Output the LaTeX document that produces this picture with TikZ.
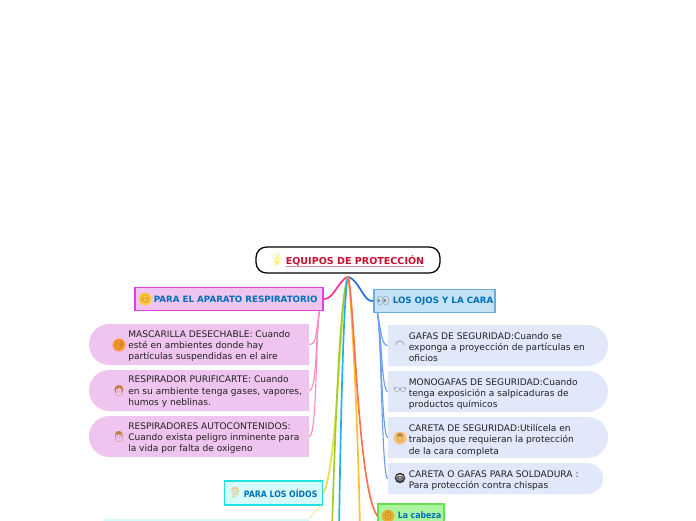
\documentclass[tikz,border=0pt]{standalone}
\usepackage{fontspec}
\setmainfont{DejaVu Sans}
\newfontfamily\emojifont{Noto Emoji}
\newfontfamily\narrowfont[FakeStretch=0.88]{DejaVu Sans}
\usetikzlibrary{arrows.meta,positioning,shapes,calc}
\definecolor{rootred}{HTML}{C8102E}
\definecolor{rootline}{HTML}{E08598}
\definecolor{headblue}{HTML}{0070B8}
\definecolor{ink}{HTML}{222222}
\definecolor{pinkbox}{HTML}{EFC4EF}
\definecolor{pinkline}{HTML}{E040E0}
\definecolor{pinklink}{HTML}{FF88C0}
\definecolor{blubox}{HTML}{C5E2F5}
\definecolor{bluline}{HTML}{6AAEDC}
\definecolor{blulink}{HTML}{6C9CF0}
\definecolor{paleblue}{HTML}{E0E8FA}
\definecolor{cyanbox}{HTML}{D5FBFD}
\definecolor{cyanline}{HTML}{20E0E0}
\definecolor{grnbox}{HTML}{ABF5A0}
\definecolor{grnline}{HTML}{66E050}
\definecolor{brmagenta}{HTML}{FF3090}
\definecolor{brblue}{HTML}{2070E0}
\definecolor{bryellow}{HTML}{E6E040}
\definecolor{brgreen}{HTML}{A0CC30}
\definecolor{brcyan}{HTML}{20B0F0}
\definecolor{brorange}{HTML}{FFC030}
\definecolor{brred}{HTML}{FF7050}
\definecolor{paleyellow}{HTML}{F4EE98}
\definecolor{faceyellow}{HTML}{FFC93C}
\definecolor{facered}{HTML}{F79A2E}
\definecolor{faceskin}{HTML}{F8C070}
\definecolor{helmet}{HTML}{E8B030}
\newlength{\pxu}
\setlength{\pxu}{0.025cm}
\tikzset{
  rootnode/.style={draw=black,fill=white,line width=0.9pt,rounded corners=7.5pt,
                   minimum width=184\pxu,minimum height=26\pxu,inner sep=0pt},
  mainbox/.style={line width=0.8pt,inner sep=0pt,minimum height=23\pxu},
  maintext/.style={font=\fontsize{6.2}{7.5}\selectfont\bfseries,text=headblue,
                   anchor=west,inner sep=0pt},
  narrowtext/.style={maintext,font=\narrowfont\fontsize{6.3}{7.5}\selectfont\bfseries},
  leftleaf/.style={rounded rectangle,rounded rectangle right arc=none,fill=pinkbox,
                   minimum width=220\pxu,minimum height=41\pxu,inner sep=0pt},
  rightleaf/.style={rounded rectangle,rounded rectangle left arc=none,fill=paleblue,
                    minimum width=220\pxu,minimum height=41\pxu,inner sep=0pt},
  leaftext/.style={font=\fontsize{6.45}{8.1}\selectfont,text=ink,align=left,
                   anchor=north west,inner sep=0pt},
  icon/.style={font=\emojifont\fontsize{7.5}{8}\selectfont,inner sep=0pt},
  faceicon/.style={icon,font=\emojifont\fontsize{5.6}{6}\selectfont,circle,fill=#1,
                   text=#1!65!black,minimum size=10.5\pxu},
  branch/.style={draw=#1,line width=1.2pt},
  leaflink/.style={draw=#1,line width=0.8pt}
}
\begin{document}
\begin{tikzpicture}[x=0.025cm,y=-0.025cm]
  \path[use as bounding box] (0,0) rectangle (696,520);
  \clip (0,0) rectangle (696,520);

  \node[rootnode] (root) at (348,260) {};
  \node[icon,text=yellow!85!orange] (bulb) at (277,260) {\symbol{"1F4A1}};
  \node[font=\fontsize{6.8}{9}\selectfont\bfseries,text=rootred,anchor=west,inner sep=0pt]
    (title) at (285.5,260.5) {EQUIPOS DE PROTECCIÓN};
  \draw[rootline,line width=0.7pt] ($(title.south west)+(0,1)$) -- ($(title.south east)+(0,1)$);

  \node[mainbox,draw=pinkline,fill=pinkbox,minimum width=188\pxu] (resp) at (229,299) {};
  \node[faceicon=faceyellow] (respicon) at (145,299) {\symbol{"1F637}};
  \node[maintext] (resptext) at (153.5,299) {PARA EL APARATO RESPIRATORIO};

  \node[mainbox,draw=bluline,fill=blubox,minimum width=121\pxu] (ojos) at (434.5,301) {};
  \node[icon,text=gray] (ojosicon) at (383,301) {\symbol{"1F440}};
  \node[maintext] (ojostext) at (392.5,301) {LOS OJOS Y LA CARA};

  \node[leftleaf] (masc) at (199,344.5) {};
  \node[leftleaf] (puri) at (199,390.5) {};
  \node[leftleaf] (auto) at (199,436.5) {};
  \node[faceicon=facered] (mascicon) at (119,345) {\symbol{"1F912}};
  \node[icon,text=brown] (puriicon) at (119,391) {\symbol{"1F469}};
  \node[icon,text=brown] (autoicon) at (119,437) {\symbol{"1F468}};
  \node[leaftext] (masctext) at (128,330) {MASCARILLA DESECHABLE: Cuando\\esté en ambientes donde hay\\partículas suspendidas en el aire};
  \node[leaftext] (puritext) at (128,375.5) {RESPIRADOR PURIFICARTE: Cuando\\en su ambiente tenga gases, vapores,\\humos y neblinas.};
  \node[leaftext] (autotext) at (128,422) {RESPIRADORES AUTOCONTENIDOS:\\Cuando exista peligro inminente para\\la vida por falta de oxigeno};

  \node[rightleaf] (gafas) at (498,345.5) {};
  \node[rightleaf] (mono) at (498,391.5) {};
  \node[rightleaf] (careta) at (498,437.5) {};
  \node[rightleaf,minimum width=215\pxu,minimum height=31\pxu] (sold) at (495.5,478.5) {};
  \node[font=\fontsize{8}{8}\selectfont,text=gray,inner sep=0pt] (gafasicon) at (400,345) {◠};
  \node[icon,text=gray] (monoicon) at (400,391) {\symbol{"1F453}};
  \node[faceicon=faceskin] (caretaicon) at (400,438) {\symbol{"1F468}};
  \node[icon,circle,fill=black!75,text=white,minimum size=10\pxu,
    font=\emojifont\fontsize{5}{6}\selectfont] (soldicon) at (400,478) {\symbol{"1F441}};
  \node[leaftext] (gafastext) at (408.5,332) {GAFAS DE SEGURIDAD:Cuando se\\exponga a proyección de partículas en\\oficios};
  \node[leaftext] (monotext) at (408.5,378) {MONOGAFAS DE SEGURIDAD:Cuando\\tenga exposición a salpicaduras de\\productos químicos};
  \node[leaftext] (caretatext) at (408.5,424) {CARETA DE SEGURIDAD:Utilícela en\\trabajos que requieran la protección\\de la cara completa};
  \node[leaftext] (soldtext) at (408.5,470) {CARETA O GAFAS PARA SOLDADURA :\\Para protección contra chispas};

  \node[mainbox,draw=cyanline,fill=cyanbox,minimum width=98\pxu,minimum height=24\pxu] (oidos) at (273.5,493) {};
  \node[icon,font=\emojifont\bfseries\fontsize{7.5}{8}\selectfont,text=orange!90!yellow] (oidosicon) at (235,493) {\symbol{"1F442}};
  \node[narrowtext] (oidostext) at (243.5,493) {PARA LOS OÍDOS};

  \node[mainbox,draw=grnline,fill=grnbox,minimum width=66\pxu,minimum height=24\pxu] (cabeza) at (411,516) {};
  \node[faceicon=helmet] (cabezaicon) at (388,516) {\symbol{"1F477}};
  \node[narrowtext] (cabezatext) at (397.5,515.5) {La cabeza};

  \node[fill=cyanbox,minimum width=207\pxu,minimum height=20\pxu,inner sep=0pt,
    rounded corners=2pt] (nextbox) at (206.5,529) {};

  % branches out of the root
  \coordinate (offgreen) at (332,530);
  \coordinate (offcyan) at (339,530);
  \coordinate (offorange) at (360,530);
  \draw[branch=brmagenta] ($(root.south)+(0,3)$) .. controls +(-10,4) and +(10,1) .. (resp.east);
  \draw[branch=brblue] ($(root.south)+(0,3)$) .. controls +(12,4) and +(-10,2) .. (ojos.west);
  \draw[branch=bryellow] ($(root.south)+(0,3)$) .. controls +(-8,14) and +(15,-23) .. (oidos.east);
  \draw[branch=brgreen] ($(root.south)+(0,3)$) .. controls +(-7,14) and +(4,-130) .. (offgreen);
  \draw[branch=brcyan] ($(root.south)+(0,3)$) .. controls +(-4,14) and +(2,-130) .. (offcyan);
  \draw[branch=brorange] ($(root.south)+(0,3)$) .. controls +(3,14) and +(-2,-110) .. (offorange);
  \draw[branch=brred] ($(root.south)+(0,3)$) .. controls +(6,14) and +(-20,-26) .. (cabeza.west);

  % leaf links
  \foreach \leaf in {masc,puri,auto}
    \draw[leaflink=pinklink] ($(resp.south east)+(-4,0)$) .. controls +(-4,20) and +(8,0) .. (\leaf.east);
  \foreach \leaf in {gafas,mono,careta,sold}
    \draw[leaflink=blulink] ($(ojos.south west)+(4,0)$) .. controls +(4,20) and +(-6,0) .. (\leaf.west);
  \draw[leaflink=paleyellow] ($(oidos.south east)+(-2,0)$) .. controls +(-3,6) and +(2,-8) .. (nextbox.north east);
\end{tikzpicture}
\end{document}
